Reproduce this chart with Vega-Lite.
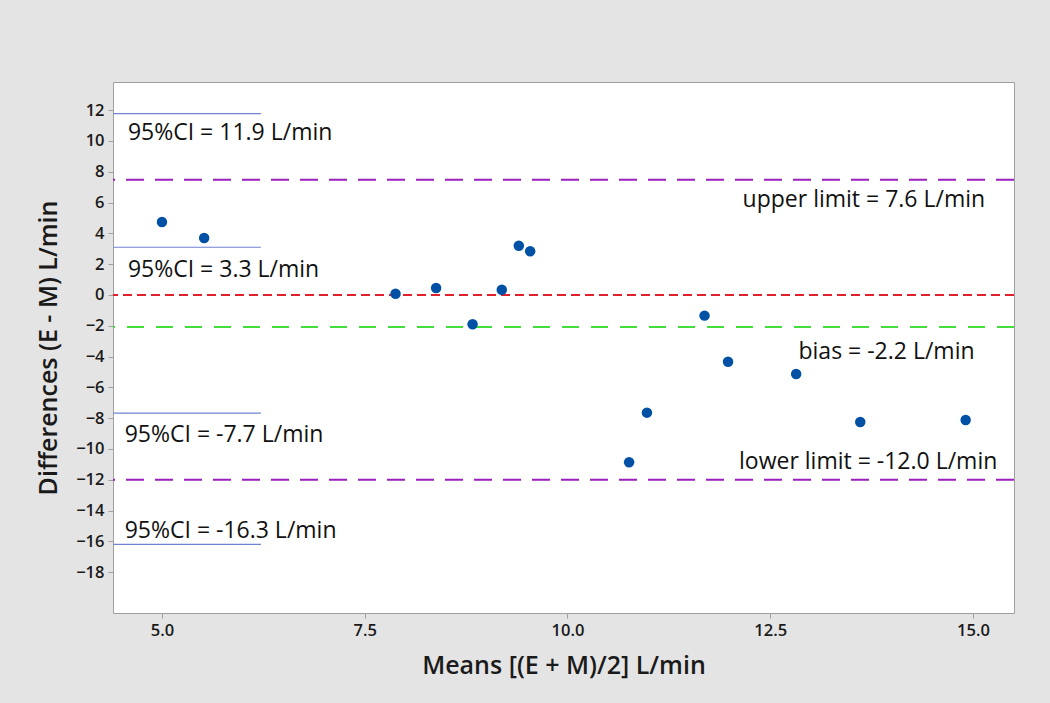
{
  "$schema": "https://vega.github.io/schema/vega-lite/v6.json",
  "width": 901,
  "height": 531,
  "autosize": {"type": "none"},
  "padding": {"left": 113, "top": 82, "right": 36, "bottom": 90},
  "background": "#e4e4e4",
  "config": {
    "view": {"fill": "white", "stroke": "#a0a0a0", "strokeWidth": 1},
    "font": "Open Sans",
    "axis": {
      "grid": false,
      "domain": false,
      "tickColor": "#a0a0a0",
      "tickSize": 5,
      "labelPadding": 4,
      "labelOverlap": false,
      "labelFont": "Open Sans",
      "labelFontSize": 16.5,
      "labelFontWeight": 600,
      "labelColor": "#1a1a1a",
      "titleFont": "Open Sans",
      "titleFontSize": 25,
      "titleFontWeight": 600,
      "titleColor": "#1a1a1a"
    }
  },
  "datasets": {
    "points": [
      {"mean": 5.0, "diff": 4.74},
      {"mean": 5.52, "diff": 3.7},
      {"mean": 7.88, "diff": 0.08},
      {"mean": 8.38, "diff": 0.45},
      {"mean": 8.83, "diff": -1.9},
      {"mean": 9.19, "diff": 0.34},
      {"mean": 9.4, "diff": 3.2},
      {"mean": 9.54, "diff": 2.84},
      {"mean": 10.76, "diff": -10.86},
      {"mean": 10.98, "diff": -7.64},
      {"mean": 11.69, "diff": -1.34},
      {"mean": 11.98, "diff": -4.33},
      {"mean": 12.82, "diff": -5.13},
      {"mean": 13.61, "diff": -8.25},
      {"mean": 14.91, "diff": -8.12}
    ],
    "hlines": [
      {"line": "upper", "y": 7.48},
      {"line": "zero", "y": 0},
      {"line": "bias", "y": -2.08},
      {"line": "lower", "y": -12.0}
    ],
    "ci": [
      {"y": 11.78, "xs": 4.4, "xe": 6.22},
      {"y": 3.1, "xs": 4.4, "xe": 6.22},
      {"y": -7.67, "xs": 4.4, "xe": 6.22},
      {"y": -16.2, "xs": 4.4, "xe": 6.22}
    ],
    "leftLabels": [
      {"x": 4.58, "y": 10.54, "label": "95%CI = 11.9 L/min"},
      {"x": 4.58, "y": 1.63, "label": "95%CI = 3.3 L/min"},
      {"x": 4.54, "y": -9.1, "label": "95%CI = -7.7 L/min"},
      {"x": 4.54, "y": -15.3, "label": "95%CI = -16.3 L/min"}
    ],
    "rightLabels": [
      {"x": 15.15, "y": 6.18, "label": "upper limit = 7.6 L/min"},
      {"x": 15.02, "y": -3.71, "label": "bias = -2.2 L/min"},
      {"x": 15.3, "y": -10.87, "label": "lower limit = -12.0 L/min"}
    ]
  },
  "layer": [
    {
      "data": {"name": "hlines"},
      "mark": {"type": "rule", "strokeWidth": 2},
      "encoding": {
        "y": {
          "field": "y", "type": "quantitative",
          "scale": {"domain": [-20.65, 13.83], "nice": false, "zero": false},
          "axis": {"values": [-18,-16,-14,-12,-10,-8,-6,-4,-2,0,2,4,6,8,10,12], "labelOverlap": false, "title": "Differences (E - M) L/min", "titlePadding": 14}
        },
        "color": {
          "field": "line", "type": "nominal", "legend": null,
          "scale": {"domain": ["upper", "zero", "bias", "lower"], "range": ["#9b1fbf", "#e0202a", "#44dd3c", "#9b1fbf"]}
        },
        "strokeDash": {
          "field": "line", "type": "nominal", "legend": null,
          "scale": {"domain": ["upper", "zero", "bias", "lower"], "range": [[18, 11], [9, 5], [17, 12], [18, 11]]}
        }
      }
    },
    {
      "data": {"name": "ci"},
      "mark": {"type": "rule", "strokeWidth": 1.2, "color": "#6f82d4"},
      "encoding": {
        "x": {"field": "xs", "type": "quantitative", "axis": {"values": [5, 7.5, 10, 12.5, 15], "format": ".1f", "labelOverlap": false, "title": "Means [(E + M)/2] L/min", "titlePadding": 15}},
        "x2": {"field": "xe"},
        "y": {"field": "y", "type": "quantitative", "axis": {"values": [-18,-16,-14,-12,-10,-8,-6,-4,-2,0,2,4,6,8,10,12], "labelOverlap": false, "title": "Differences (E - M) L/min", "titlePadding": 14}}
      }
    },
    {
      "data": {"name": "points"},
      "mark": {"type": "point", "filled": true, "size": 110, "opacity": 1, "color": "#0051a5"},
      "encoding": {
        "x": {
          "field": "mean", "type": "quantitative",
          "scale": {"domain": [4.396, 15.506], "nice": false, "zero": false},
          "axis": {"values": [5, 7.5, 10, 12.5, 15], "format": ".1f", "labelOverlap": false, "title": "Means [(E + M)/2] L/min", "titlePadding": 15}
        },
        "y": {"field": "diff", "type": "quantitative", "axis": {"values": [-18,-16,-14,-12,-10,-8,-6,-4,-2,0,2,4,6,8,10,12], "labelOverlap": false, "title": "Differences (E - M) L/min", "titlePadding": 14}}
      }
    },
    {
      "data": {"name": "leftLabels"},
      "mark": {"type": "text", "align": "left", "baseline": "middle", "fontSize": 23, "color": "#111111"},
      "encoding": {
        "x": {"field": "x", "type": "quantitative", "axis": {"values": [5, 7.5, 10, 12.5, 15], "format": ".1f", "labelOverlap": false, "title": "Means [(E + M)/2] L/min", "titlePadding": 15}},
        "y": {"field": "y", "type": "quantitative", "axis": {"values": [-18,-16,-14,-12,-10,-8,-6,-4,-2,0,2,4,6,8,10,12], "labelOverlap": false, "title": "Differences (E - M) L/min", "titlePadding": 14}},
        "text": {"field": "label"}
      }
    },
    {
      "data": {"name": "rightLabels"},
      "mark": {"type": "text", "align": "right", "baseline": "middle", "fontSize": 23, "color": "#111111"},
      "encoding": {
        "x": {"field": "x", "type": "quantitative", "axis": {"values": [5, 7.5, 10, 12.5, 15], "format": ".1f", "labelOverlap": false, "title": "Means [(E + M)/2] L/min", "titlePadding": 15}},
        "y": {"field": "y", "type": "quantitative", "axis": {"values": [-18,-16,-14,-12,-10,-8,-6,-4,-2,0,2,4,6,8,10,12], "labelOverlap": false, "title": "Differences (E - M) L/min", "titlePadding": 14}},
        "text": {"field": "label"}
      }
    }
  ]
}
